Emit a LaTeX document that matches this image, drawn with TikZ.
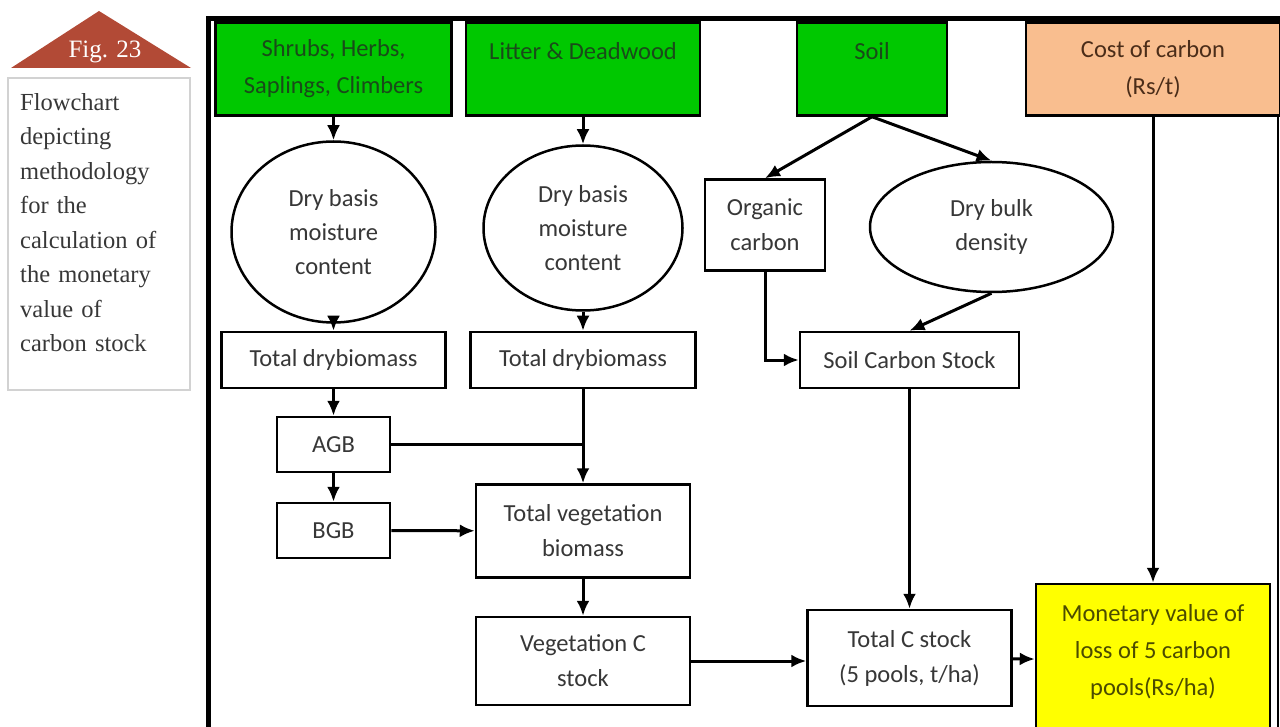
\documentclass[tikz,border=0pt]{standalone}
\usepackage{fontspec}
\setmainfont{Carlito}
\newfontfamily\capfont{Liberation Serif}
\usetikzlibrary{shapes, arrows.meta, positioning, calc}
\definecolor{poolgreen}{RGB}{0, 200, 0}
\definecolor{poolink}{RGB}{25, 75, 25}
\definecolor{costpeach}{RGB}{249, 190, 143}
\definecolor{costink}{RGB}{75, 45, 25}
\definecolor{valyellow}{RGB}{255, 255, 0}
\definecolor{valink}{RGB}{75, 75, 0}
\definecolor{boxink}{RGB}{55, 55, 55}
\definecolor{figred}{RGB}{178, 74, 54}
\tikzset{
  poolbox/.style={draw=black, line width=2.5pt, fill=poolgreen, text=poolink, align=center, inner sep=0pt, font=\fontsize{24.5}{37}\selectfont},
  calcbox/.style={draw=black, line width=2.5pt, fill=white, text=boxink, align=center, inner sep=0pt, font=\fontsize{24.5}{35}\selectfont},
  calcoval/.style={ellipse, draw=black, line width=2.5pt, fill=white, text=boxink, align=center, inner sep=0pt, font=\fontsize{24.5}{34}\selectfont},
  flow/.style={line width=3pt, -{Latex[length=15pt, width=13pt]}},
}
\begin{document}
\begin{tikzpicture}[x=1pt, y=-1pt]
  \useasboundingbox (0,0) rectangle (1280,727);

  % caption
  \fill[figred] (11,68) -- (99,11) -- (191,68) -- cycle;
  \node[text=white, font=\capfont\fontsize{25}{25}\selectfont] (fig) at (105,52) {Fig. 23};
  \draw[gray!35, line width=1.8pt] (8,78) rectangle (190,390);
  \node[anchor=north west, inner sep=0pt, text width=165pt, align=left, text=boxink,
        font=\capfont\fontsize{24.5}{34.5}\selectfont] (caption) at (20,93)
    {Flowchart\\depicting\\methodology\\for the\\calculation of\\the monetary\\value of\\carbon stock};

  % frame
  \draw[line width=5pt] (208.5,727) -- (208.5,19) -- (1282,19);
  \draw[line width=1.2pt] (1278,19) -- (1278,727);

  % pools
  \node[poolbox, minimum width=236pt, minimum height=93pt] (shrubs) at (333.5,69) {Shrubs, Herbs,\\Saplings, Climbers};
  \node[poolbox, minimum width=234pt, minimum height=93pt] (litter) at (583,69) {Litter \& Deadwood\\\mbox{}};
  \node[poolbox, minimum width=150pt, minimum height=93pt] (soil) at (872,69) {Soil\\\mbox{}};
  \node[poolbox, fill=costpeach, text=costink, minimum width=254pt, minimum height=93pt] (cost) at (1153,69) {Cost of carbon\\(Rs/t)};

  % moisture and soil inputs
  \node[calcoval, minimum width=204pt, minimum height=181pt] (moist1) at (333.5,232) {Dry basis\\moisture\\content};
  \node[calcoval, minimum width=199pt, minimum height=165pt] (moist2) at (583,228) {Dry basis\\moisture\\content};
  \node[calcbox, minimum width=120pt, minimum height=91pt] (organic) at (765,225) {Organic\\carbon};
  \node[calcoval, minimum width=243pt, minimum height=130pt] (bulk) at (991.5,227) {Dry bulk\\density};

  % biomass
  \node[calcbox, minimum width=224pt, minimum height=56pt] (dry1) at (333.5,360) {Total drybiomass};
  \node[calcbox, minimum width=225pt, minimum height=56pt] (dry2) at (583,360) {Total drybiomass};
  \node[calcbox, minimum width=219pt, minimum height=56pt] (soilstock) at (909.5,360) {Soil Carbon Stock};
  \node[calcbox, minimum width=113pt, minimum height=55pt] (agb) at (333.5,444.5) {AGB};
  \node[calcbox, minimum width=113pt, minimum height=55pt] (bgb) at (333.5,530.5) {BGB};
  \node[calcbox, minimum width=214pt, minimum height=93pt] (vegbio) at (583,531) {Total vegetation\\biomass};
  \node[calcbox, minimum width=214pt, minimum height=88pt] (vegstock) at (583,661) {Vegetation C\\stock};
  \node[calcbox, minimum width=204pt, minimum height=96pt] (totstock) at (909.5,658) {Total C stock\\(5 pools, t/ha)};
  \node[calcbox, fill=valyellow, text=valink, minimum width=234pt, minimum height=152pt, font=\fontsize{24.5}{37}\selectfont] (money) at (1153,660) {Monetary value of\\loss of 5 carbon\\pools(Rs/ha)\\[-16pt]\mbox{}};

  % connectors
  \draw[flow] (shrubs) -- (moist1);
  \draw[flow] (moist1) -- (dry1);
  \draw[flow] (litter) -- (moist2);
  \draw[flow] (moist2) -- (dry2);
  \draw[flow] (soil.south) -- (organic.north);
  \draw[flow] (soil.south) -- (bulk.north);
  \draw[flow] (organic.south) |- (soilstock.west);
  \draw[flow] (bulk.south) -- (soilstock.north);
  \draw[flow] (dry1) -- (agb);
  \draw[flow] (agb) -- (bgb);
  \draw[line width=3pt] (agb.east) -- (agb.east -| dry2.south);
  \draw[flow] (dry2) -- (vegbio);
  \draw[flow] (bgb) -- (vegbio);
  \draw[flow] (vegbio) -- (vegstock);
  \draw[flow] (vegstock.east) -- (vegstock.east -| totstock.west);
  \draw[flow] (soilstock) -- (totstock);
  \draw[flow] (totstock) -- (money);
  \draw[flow] (cost) -- (money);
\end{tikzpicture}
\end{document}
